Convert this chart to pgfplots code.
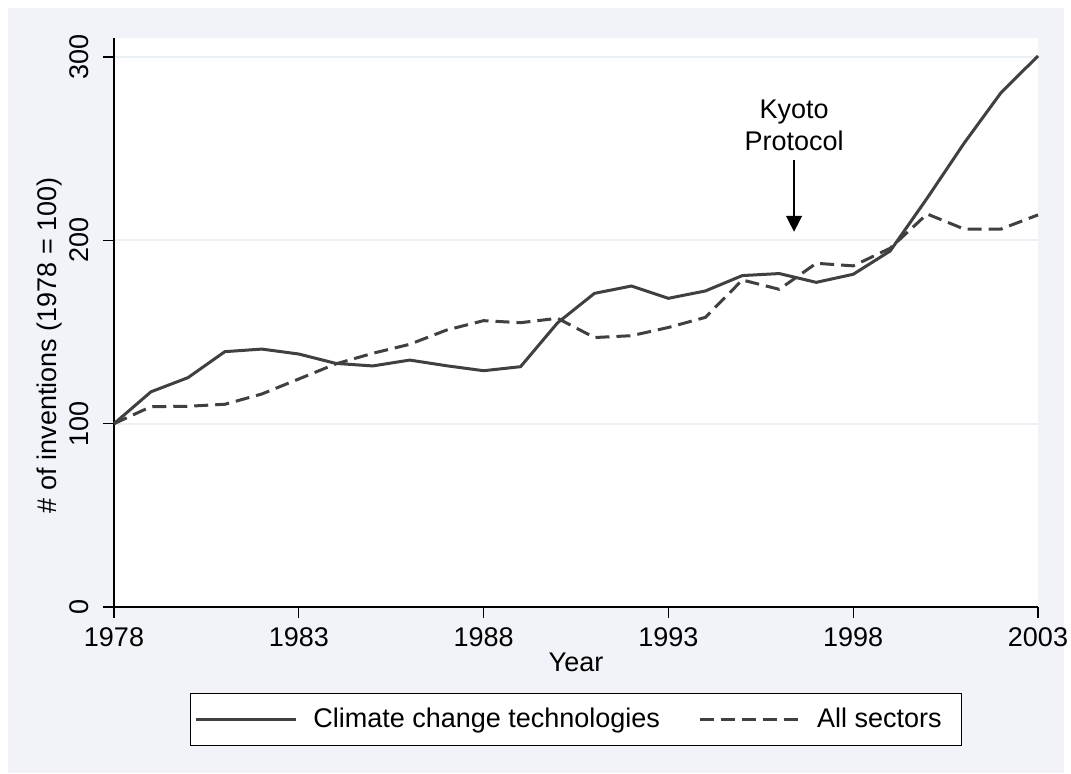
\documentclass[border=0pt]{standalone}
\usepackage{pgfplots}
\pgfplotsset{compat=1.18}
\usepackage{fontspec}
\setmainfont{Liberation Sans}
\usetikzlibrary{arrows.meta}
\definecolor{bgc}{HTML}{F2F3F9}
\definecolor{gridc}{HTML}{EAF0F3}
\definecolor{linec}{HTML}{404040}
\begin{document}
\fontsize{13.5}{16}\selectfont
\begin{tikzpicture}
\useasboundingbox (-57pt,-83pt) rectangle (478.5pt,303.5pt);
\fill[white] (-57pt,-83pt) rectangle (478.5pt,303.5pt);
\fill[bgc] (-53pt,-83pt) rectangle (475pt,299.5pt);
\begin{axis}[
  at={(0,0)}, anchor=south west,
  scale only axis, width=462pt, height=284.5pt,
  xmin=1978, xmax=2003, ymin=0, ymax=310.4,
  axis lines*=left,
  axis line style={line width=0.6pt, black},
  axis background/.style={fill=white},
  xtick={1978,1983,1988,1993,1998,2003},
  ytick={0,100,200,300},
  xticklabel style={/pgf/number format/1000 sep={}},
  /pgf/number format/assume math mode=true,
  tick style={black, line width=0.6pt},
  tick align=outside, major tick length=5.5pt,
  ymajorgrids, grid style={gridc, line width=1pt},
  yticklabel style={rotate=90, anchor=south},
  yticklabel shift=2.5pt,
  xlabel={Year}, ylabel={\# of inventions (1978 = 100)},
  xlabel style={at={(axis description cs:0.5,0)}, anchor=center, yshift=-27.5pt},
  ylabel style={at={(axis description cs:-0.0693,0.46)}, anchor=center},
  legend columns=2,
  legend style={at={(axis description cs:0.5,0)}, anchor=north, yshift=-43pt,
    draw=black, line width=0.6pt, fill=white, inner xsep=2pt, inner ysep=5pt,
    /tikz/every even column/.append style={column sep=11pt},
    nodes={inner xsep=8pt},
    font=\fontsize{13.5}{16}\selectfont},
  legend image code/.code={\draw[#1] (0pt,0pt) -- (50pt,0pt);},
  clip=false,
]
\addplot[linec, line width=1.5pt] coordinates {
(1978,100) (1979,117.4) (1980,125.1) (1981,139.3) (1982,140.7) (1983,138)
(1984,132.9) (1985,131.5) (1986,134.7) (1987,131.6) (1988,128.9) (1989,131.1)
(1990,155) (1991,171.1) (1992,175.1) (1993,168.4) (1994,172.4) (1995,180.8)
(1996,181.9) (1997,177.1) (1998,181.5) (1999,194.2) (2000,223) (2001,253)
(2002,280.6) (2003,300.6)};
\addlegendentry{Climate change technologies}
\addplot[linec, line width=1.5pt, dash pattern=on 7pt off 3.5pt] coordinates {
(1978,100) (1979,109.3) (1980,109.5) (1981,110.6) (1982,116.2) (1983,124.4)
(1984,132.6) (1985,138.4) (1986,143.3) (1987,151.1) (1988,156.2) (1989,155.1)
(1990,157.5) (1991,147) (1992,148) (1993,152.5) (1994,158) (1995,178.4)
(1996,173.3) (1997,187.5) (1998,186.1) (1999,195.7) (2000,214.4) (2001,206.2)
(2002,206.2) (2003,213.9)};
\addlegendentry{All sectors}
\draw[black, line width=0.7pt, -{Triangle[width=8pt,length=8pt]}] (axis cs:1996.4,243.9) -- (axis cs:1996.4,204.7);
\node[align=center, inner sep=0pt] at (axis cs:1996.4,262.9) {Kyoto\\Protocol};
\end{axis}
\end{tikzpicture}
\end{document}
